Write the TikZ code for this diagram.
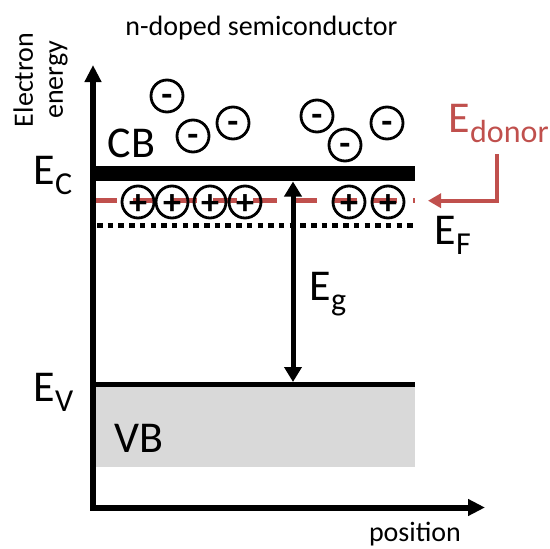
\documentclass[tikz,border=0pt]{standalone}
\usepackage{fontspec}
\setmainfont{Carlito}
\usepackage{tikz}
\usetikzlibrary{arrows.meta,positioning}
\definecolor{donorred}{HTML}{C0504D}
\definecolor{vbgray}{HTML}{D9D9D9}
\newcommand{\elvl}[2]{#1\raisebox{-10pt}{\fontsize{32}{32}\selectfont #2}}
\tikzset{
  bandedge/.style={draw=black,line cap=butt},
  donorline/.style={draw=donorred,line width=5pt,dash pattern=on 24pt off 16pt},
  fermiline/.style={draw=black,line width=5pt,dash pattern=on 5.5pt off 5.2pt},
  elec/.style={circle,draw,line width=2.8pt,minimum size=32pt,inner sep=0pt,
    font={\fontsize{36}{36}\selectfont\bfseries},text height=20pt,text depth=0pt},
  ion/.style={elec,text height=24pt},
  gaparrow/.style={line width=5pt,>={Triangle[length=15pt,width=17pt]},<->},
  axisline/.style={line width=6pt,>={Triangle[length=17pt,width=16pt]},<->},
  pointer/.style={draw=donorred,line width=4pt,-{Triangle[length=13pt,width=14pt]}},
  biglabel/.style={anchor=base west,inner sep=0pt,font={\fontsize{44}{48}\selectfont}},
  plain/.style={inner sep=0pt,font={\fontsize{28}{30}\selectfont}}
}
\begin{document}
\begin{tikzpicture}[x=1pt,y=-1pt]
  \useasboundingbox (0,0) rectangle (550,549);
  % bands and levels
  \fill[vbgray] (96,387) rectangle (415,467);
  \draw[bandedge,line width=5pt] (93,384.5) -- (415,384.5);
  \draw[bandedge,line width=15pt] (93,173.5) -- (415,173.5);
  \draw[donorline] (93,200.5) -- (415,200.5);
  \draw[fermiline] (97,225.7) -- (415,225.7);
  % carriers
  \foreach \x/\y [count=\i] in {167/96,193/136,233/123,317/116,345/145,387/123}
    \node[elec] (e\i) at (\x,\y) {-};
  \foreach \x [count=\i] in {138,172,210,245,349,388}
    \node[ion] (d\i) at (\x,202) {+};
  % band gap
  \coordinate (gtop) at (293,181.5);
  \coordinate (gbot) at (293,382);
  \draw[gaparrow] (gtop) -- (gbot);
  % axes
  \coordinate (orig) at (93,507.5);
  \coordinate (ytip) at (93,65);
  \coordinate (xtip) at (485,507.5);
  \draw[axisline] (ytip) -- (orig) -- (xtip);
  % labels
  \node[plain,anchor=base] (title) at (261.5,35) {n-doped semiconductor};
  \node[plain,rotate=90,align=center] (ylab) at (40.5,80) {Electron\\energy};
  \node[plain,anchor=base] (pos) at (415,541) {position};
  \node[biglabel] (cb) at (107.7,157) {CB};
  \node[biglabel] (vb) at (114,452) {VB};
  \node[biglabel] (ec) at (33.5,184) {\elvl{E}{C}};
  \node[biglabel] (ev) at (33.5,401) {\elvl{E}{V}};
  \node[biglabel] (ef) at (434.5,244) {\elvl{E}{F}};
  \node[biglabel] (eg) at (309.5,300) {\elvl{E}{g}};
  \node[biglabel,text=donorred] (edonor) at (448.5,132) {\elvl{E}{donor}};
  \coordinate (dtip) at (428,200.7);
  \draw[pointer] ([xshift=-2pt,yshift=-12pt]edonor.south) |- (dtip);
\end{tikzpicture}
\end{document}
